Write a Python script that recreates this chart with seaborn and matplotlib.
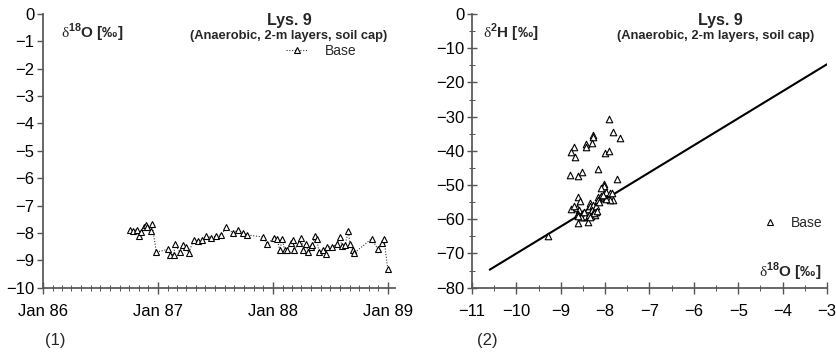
import numpy as np
import pandas as pd
import matplotlib
matplotlib.use("Agg")
import matplotlib.pyplot as plt
import matplotlib.dates as mdates
from matplotlib.lines import Line2D
from matplotlib.ticker import MultipleLocator
import seaborn as sns

# ---- data -------------------------------------------------------------
sample_dates = [
    "1986-10-05", "1986-10-14", "1986-10-25", "1986-11-01", "1986-11-09",
    "1986-11-17", "1986-11-23", "1986-11-28", "1986-12-09", "1986-12-13",
    "1986-12-27", "1987-02-02", "1987-02-09", "1987-02-20", "1987-02-25",
    "1987-03-11", "1987-03-22", "1987-03-30", "1987-04-09", "1987-04-25",
    "1987-05-08", "1987-05-22", "1987-06-04", "1987-06-20", "1987-07-06",
    "1987-07-21", "1987-08-06", "1987-08-28", "1987-09-12", "1987-09-28",
    "1987-10-12", "1987-12-01", "1987-12-15", "1988-01-04", "1988-01-15",
    "1988-01-23", "1988-01-31", "1988-02-08", "1988-02-15", "1988-02-27",
    "1988-03-04", "1988-03-08", "1988-03-24", "1988-03-31", "1988-04-07",
    "1988-04-14", "1988-04-23", "1988-04-30", "1988-05-06", "1988-05-14",
    "1988-05-19", "1988-05-27", "1988-06-09", "1988-06-17", "1988-06-22",
    "1988-07-08", "1988-07-24", "1988-08-01", "1988-08-07", "1988-08-17",
    "1988-08-28", "1988-09-02", "1988-09-11", "1988-09-16", "1988-11-10",
    "1988-11-29", "1988-12-12", "1988-12-19", "1988-12-31",
]
d18O_series = [
    -7.88, -7.94, -7.88, -8.12, -7.98, -7.78, -7.70, -7.78, -7.94, -7.66,
    -8.70, -8.60, -8.79, -8.79, -8.41, -8.70, -8.45, -8.51, -8.72, -8.24,
    -8.30, -8.24, -8.12, -8.17, -8.10, -8.07, -7.80, -8.00, -7.90, -8.02,
    -8.07, -8.15, -8.41, -8.17, -8.23, -8.63, -8.23, -8.63, -8.63, -8.38,
    -8.27, -8.63, -8.35, -8.18, -8.61, -8.41, -8.70, -8.51, -8.45, -8.12,
    -8.21, -8.70, -8.63, -8.76, -8.51, -8.51, -8.39, -8.15, -8.46, -8.45,
    -7.93, -8.41, -8.63, -8.73, -8.21, -8.58, -8.37, -8.21, -9.30,
]

d18O_pairs = [
    -7.91, -7.82, -7.67, -8.27, -8.27, -8.29, -8.43, -8.43, -8.70, -8.77,
    -8.68, -8.00, -7.91, -8.16, -8.78, -8.61, -8.51, -7.73, -8.03, -8.02,
    -8.09, -7.97, -7.90, -7.84, -7.82, -7.90, -7.99, -8.12, -8.16, -8.09,
    -8.61, -8.57, -8.64, -8.76, -8.70, -8.58, -8.64, -8.61, -8.53, -8.50,
    -8.46, -8.43, -8.39, -8.39, -8.35, -8.33, -8.27, -8.29, -8.23, -8.20,
    -8.20, -8.23, -8.31, -8.43, -8.50, -8.61, -8.39, -9.28, -8.45, -8.37,
    -8.25, -8.15, -8.13, -8.55, -8.48, -8.18, -8.62, -8.34, -8.05,
]
d2H_pairs = [
    -30.8, -34.4, -36.3, -35.4, -36.0, -37.6, -38.0, -39.0, -38.8, -40.3,
    -41.9, -40.7, -40.0, -45.3, -47.1, -47.4, -46.3, -48.3, -49.7, -50.4,
    -50.9, -52.0, -52.2, -52.4, -54.4, -54.4, -54.2, -53.9, -53.5, -53.3,
    -53.6, -54.8, -56.8, -57.1, -56.1, -57.3, -58.7, -58.4, -58.4, -58.2,
    -58.7, -58.0, -58.2, -57.1, -55.3, -56.1, -55.7, -57.3, -57.1, -56.1,
    -58.0, -58.7, -59.0, -59.4, -59.2, -61.0, -60.7, -64.9, -59.0, -58.8,
    -58.3, -54.5, -55.0, -59.3, -57.8, -57.6, -59.0, -59.3, -53.0,
]

# global meteoric water line, drawn between these delta-18O limits
gmwl_x = [-10.6, -3.0]
gmwl_slope, gmwl_intercept = 7.9, 9.0

# ---- style ------------------------------------------------------------
sns.set_theme(style="ticks")
plt.rcParams["font.family"] = ["Liberation Sans", "DejaVu Sans"]
plt.rcParams["mathtext.fontset"] = "custom"
plt.rcParams["mathtext.rm"] = "Liberation Serif"
plt.rcParams["mathtext.bf"] = "Liberation Sans:bold"
plt.rcParams["axes.edgecolor"] = "#555555"
plt.rcParams["xtick.color"] = "#555555"
plt.rcParams["ytick.color"] = "#555555"
plt.rcParams["xtick.labelcolor"] = "black"
plt.rcParams["ytick.labelcolor"] = "black"

fig = plt.figure(figsize=(8.37, 3.52), dpi=100)
ax1 = fig.add_axes([0.0514, 0.1827, 0.4205, 0.7776])
ax2 = fig.add_axes([0.5639, 0.1827, 0.4241, 0.7776])

mk = dict(marker="^", markersize=4.5, markerfacecolor="white",
          markeredgecolor="black", markeredgewidth=0.8)

# ---- panel 1: time series ---------------------------------------------
ts = pd.DataFrame({"date": pd.to_datetime(sample_dates), "d18O": d18O_series})
sns.lineplot(data=ts, x="date", y="d18O", ax=ax1, sort=False, color="#333333",
             linestyle=(0, (1, 1.5)), linewidth=0.8, **mk)

ax1.set_xlim(pd.Timestamp("1986-01-01"), pd.Timestamp("1989-01-23"))
ax1.set_ylim(-10, 0)
ax1.xaxis.set_major_locator(mdates.YearLocator())
ax1.xaxis.set_major_formatter(mdates.DateFormatter("Jan %y"))
ax1.xaxis.set_minor_locator(mdates.MonthLocator())
ax1.set_yticks(np.arange(-10, 1, 1))
ax1.set_yticklabels([f"\u2212{abs(v)}" if v < 0 else "0" for v in range(-10, 1)])
ax1.tick_params(axis="x", which="major", direction="inout", length=8, width=1, labelsize=12, pad=8)
ax1.tick_params(axis="x", which="minor", direction="inout", length=4, width=0.7)
ax1.tick_params(axis="y", which="major", direction="out", length=4, width=1, labelsize=12, pad=2)
ax1.set_xlabel("")
ax1.set_ylabel("")
sns.despine(ax=ax1)

ax1.text(0.05, 0.93, r"$\mathrm{\delta}^{\mathbf{18}}$O [‰]", transform=ax1.transAxes,
         fontsize=11, fontweight="bold", va="center")
ax1.text(0.70, 0.975, "Lys. 9", transform=ax1.transAxes, fontsize=11.5,
         fontweight="bold", ha="center", va="center")
ax1.text(0.699, 0.92, "(Anaerobic, 2-m layers, soil cap)", transform=ax1.transAxes,
         fontsize=9.3, fontweight="bold", ha="center", va="center")
h1 = Line2D([], [], color="#333333", linestyle=(0, (1, 1.5)), linewidth=0.8, **mk)
ax1.legend([h1], ["Base"], loc="center", bbox_to_anchor=(0.79, 0.865), frameon=False,
           handlelength=1.6, handletextpad=1.2, prop={"size": 10})

# ---- panel 2: dual-isotope plot ---------------------------------------
pairs = pd.DataFrame({"d18O": d18O_pairs, "d2H": d2H_pairs})
line = pd.DataFrame({"d18O": gmwl_x,
                     "d2H": [gmwl_slope * v + gmwl_intercept for v in gmwl_x]})
sns.lineplot(data=line, x="d18O", y="d2H", ax=ax2, color="black", linewidth=1.5)
sns.scatterplot(data=pairs, x="d18O", y="d2H", ax=ax2, marker="^", s=22,
                facecolor="white", edgecolor="black", linewidth=0.8, zorder=3)

ax2.set_xlim(-11, -3)
ax2.set_ylim(-80, 0)
ax2.set_xticks(np.arange(-11, -2, 1))
ax2.set_xticklabels([f"\u2212{abs(v)}" for v in range(-11, -2)])
ax2.xaxis.set_minor_locator(MultipleLocator(0.5))
ax2.set_yticks(np.arange(-80, 1, 10))
ax2.set_yticklabels([f"\u2212{abs(v)}" if v < 0 else "0" for v in range(-80, 1, 10)])
ax2.yaxis.set_minor_locator(MultipleLocator(5))
ax2.tick_params(axis="x", which="major", direction="inout", length=8, width=1, labelsize=12, pad=8)
ax2.tick_params(axis="x", which="minor", direction="inout", length=4, width=0.7)
ax2.tick_params(axis="y", which="major", direction="inout", length=7, width=1, labelsize=12, pad=2)
ax2.tick_params(axis="y", which="minor", direction="inout", length=4, width=0.7)
ax2.set_xlabel("")
ax2.set_ylabel("")
sns.despine(ax=ax2)

ax2.text(0.03, 0.93, r"$\mathrm{\delta}^{\mathbf{2}}$H [‰]", transform=ax2.transAxes,
         fontsize=11, fontweight="bold", va="center")
ax2.text(0.70, 0.975, "Lys. 9", transform=ax2.transAxes, fontsize=11.5,
         fontweight="bold", ha="center", va="center")
ax2.text(0.687, 0.92, "(Anaerobic, 2-m layers, soil cap)", transform=ax2.transAxes,
         fontsize=9.3, fontweight="bold", ha="center", va="center")
ax2.text(0.985, 0.057, r"$\mathrm{\delta}^{\mathbf{18}}$O [‰]", transform=ax2.transAxes,
         fontsize=11, fontweight="bold", ha="right", va="center")
h2 = Line2D([], [], linestyle="none", **mk)
ax2.legend([h2], ["Base"], loc="center", bbox_to_anchor=(0.905, 0.236), frameon=False,
           handlelength=1.0, handletextpad=1.0, prop={"size": 10})

# ---- panel labels -----------------------------------------------------
fig.text(55 / 837, 1 - 340 / 352, "(1)", fontsize=12, ha="center", va="center")
fig.text(487 / 837, 1 - 340 / 352, "(2)", fontsize=12, ha="center", va="center")

fig.savefig("out.png", dpi=100)
